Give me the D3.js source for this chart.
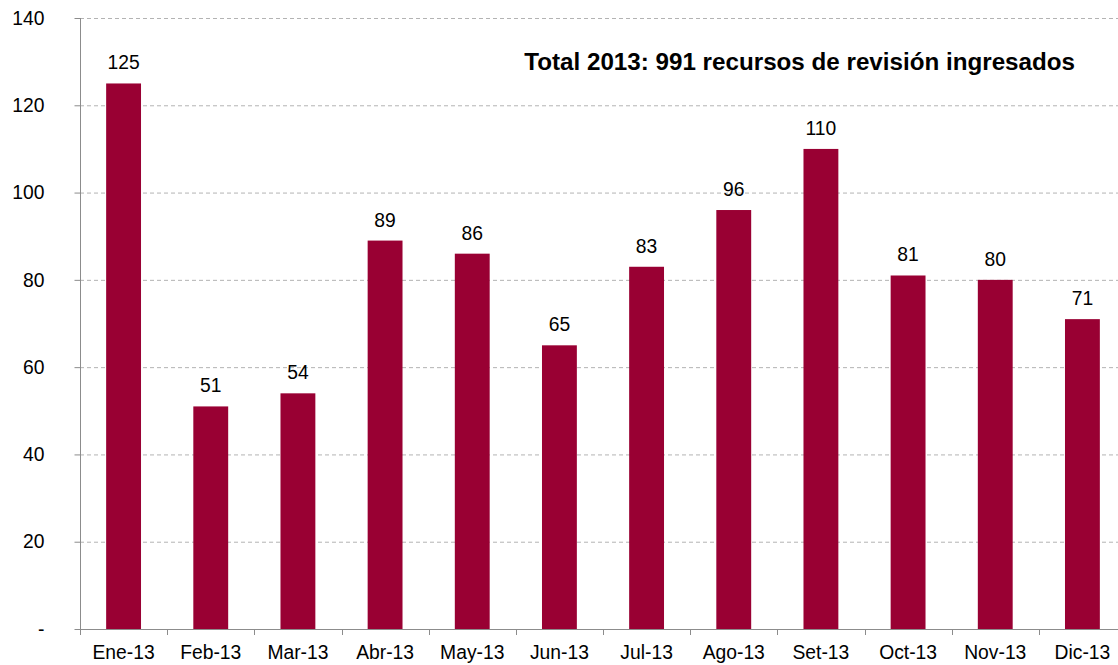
<!DOCTYPE html>
<html><head><meta charset="utf-8">
<script src="https://cdn.jsdelivr.net/npm/d3@7"></script>
<style>body{margin:0;background:#fff;font-family:"Liberation Sans",Arial,sans-serif;}</style>
</head><body><svg id="c" width="1118" height="665"></svg>
<script>
const months = ["Ene-13","Feb-13","Mar-13","Abr-13","May-13","Jun-13","Jul-13","Ago-13","Set-13","Oct-13","Nov-13","Dic-13"];
const values = [125,51,54,89,86,65,83,96,110,81,80,71];
const yTicks = [0,20,40,60,80,100,120,140];
const title = "Total 2013: 991 recursos de revisión ingresados";

const FS = 19.3;
const svg = d3.select("#c");
const x = d3.scaleBand().domain(months).range([80,1126]).paddingInner(0.6).paddingOuter(0.3);
const y = d3.scaleLinear().domain([0,140]).range([629,18]);
const col = "#990033";

// gridlines
svg.append("g").selectAll("line").data(yTicks.filter(d=>d>0)).join("line")
  .attr("x1",80).attr("x2",1118).attr("y1",d=>y(d)+0.5).attr("y2",d=>y(d)+0.5)
  .attr("stroke","#b3b3b3").attr("stroke-dasharray","4,3");

// bars
svg.append("g").selectAll("rect").data(values).join("rect")
  .attr("x",(d,i)=>x(months[i])).attr("width",x.bandwidth())
  .attr("y",d=>y(d)).attr("height",d=>y(0)-y(d)).attr("fill",col);

// value labels
svg.append("g").selectAll("text").data(values).join("text")
  .attr("x",(d,i)=>x(months[i])+x.bandwidth()/2).attr("y",d=>y(d)-14)
  .attr("text-anchor","middle").attr("font-size",FS).text(d=>d);

// y axis
const ya = d3.axisLeft(y).tickValues(yTicks).tickSize(6).tickPadding(30)
  .tickFormat(d=>d===0?"-":d);
const gy = svg.append("g").attr("transform","translate(80.5,0)").call(ya);
gy.select(".domain").attr("stroke","#8c8c8c").attr("d","M0,"+y(140)+"V"+y(0));
gy.selectAll(".tick line").attr("stroke","#8c8c8c");
gy.selectAll("text").attr("font-size",FS).attr("fill","#000").attr("font-family","Liberation Sans, Arial, sans-serif");

// x axis
const xa = d3.axisBottom(x).tickSize(0).tickPadding(16);
const gx = svg.append("g").attr("transform","translate(0,629.5)").call(xa);
gx.select(".domain").attr("stroke","#8c8c8c").attr("d","M80,0H1126");
gx.selectAll("text").attr("font-size",FS).attr("fill","#000").attr("font-family","Liberation Sans, Arial, sans-serif");
// category boundary ticks
const bounds = months.map(m=>x(m)-x.step()*x.paddingInner()/2);
bounds.push(1126);
svg.append("g").selectAll("line").data(bounds).join("line")
  .attr("x1",d=>Math.round(d)+0.5).attr("x2",d=>Math.round(d)+0.5)
  .attr("y1",629).attr("y2",635).attr("stroke","#8c8c8c");

svg.append("text").attr("x",1075).attr("y",70).attr("text-anchor","end")
  .attr("font-size",24.2).attr("font-weight","bold").text(title);
</script></body></html>
